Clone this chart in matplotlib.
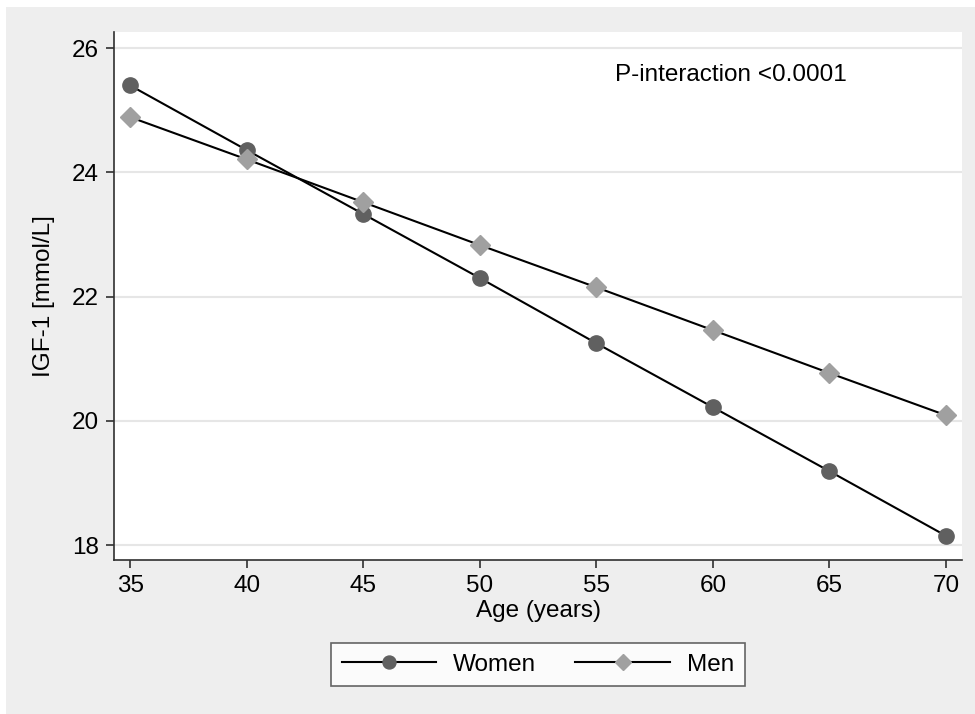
import matplotlib
matplotlib.use('Agg')
import matplotlib.pyplot as plt
from matplotlib.patches import Rectangle

plt.rcParams['font.family'] = ['Liberation Sans', 'DejaVu Sans']

# 데이터
age = [35, 40, 45, 50, 55, 60, 65, 70]
women = [25.40, 24.36, 23.33, 22.30, 21.25, 20.22, 19.19, 18.15]
men = [24.89, 24.21, 23.52, 22.83, 22.15, 21.46, 20.77, 20.09]
yticks = [18, 20, 22, 24, 26]
xticks = [35, 40, 45, 50, 55, 60, 65, 70]

fig = plt.figure(figsize=(9.75, 7.14), dpi=100, facecolor='white')
# 바깥 회색 배경
fig.patches.append(Rectangle((6 / 975, 0), 1, 1 - 7 / 714, transform=fig.transFigure,
                             facecolor='#eeeeee', edgecolor='none', zorder=-10))

ax = fig.add_axes([114 / 975, 154 / 714, 848 / 975, 528 / 714])
ax.set_facecolor('white')

for y in yticks:
    ax.axhline(y, color='#e6e6e6', linewidth=1.5, zorder=0)

ax.plot(age, women, color='black', linewidth=1.5, marker='o', markersize=11,
        markerfacecolor='#606060', markeredgecolor='#606060', label='Women', zorder=3)
ax.plot(age, men, color='black', linewidth=1.5, marker='D', markersize=10,
        markerfacecolor='#a0a0a0', markeredgecolor='#a0a0a0', label='Men', zorder=3)

ax.set_xlim(34.31, 70.69)
ax.set_ylim(17.76, 26.26)
ax.set_xticks(xticks)
ax.set_yticks(yticks)

for side in ['top', 'right']:
    ax.spines[side].set_visible(False)
for side in ['left', 'bottom']:
    ax.spines[side].set_color('#303030')
    ax.spines[side].set_linewidth(1.2)

ax.tick_params(axis='both', direction='out', length=6, width=1.2, color='#303030',
               labelsize=17.5, pad=5)

ax.set_xlabel('Age (years)', fontsize=17.5, labelpad=2)
ax.set_ylabel('IGF-1 [mmol/L]', fontsize=17.5, labelpad=12)

ax.text(0.591, 0.918, 'P-interaction <0.0001', transform=ax.transAxes,
        fontsize=17.5, ha='left', va='center')

leg = ax.legend(loc='center', bbox_to_anchor=(0.5, -0.198), ncol=2, fontsize=17.5,
                frameon=True, fancybox=False, handlelength=3.9, columnspacing=1.6,
                handletextpad=0.7, markerscale=0.85, borderpad=0.45)
leg.get_frame().set_edgecolor('#404040')
leg.get_frame().set_linewidth(1.2)

plt.savefig('out.png', dpi=100)
plt.close()
